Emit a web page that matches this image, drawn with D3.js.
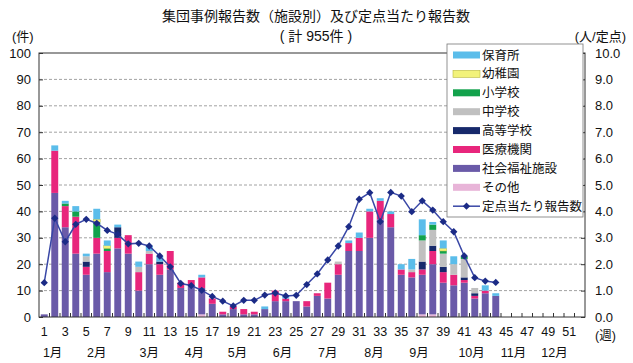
<!DOCTYPE html>
<html>
<head>
<meta charset="utf-8">
<script src="https://cdn.jsdelivr.net/npm/d3@7"></script>
<style>
  body { margin: 0; background: #fff; }
  svg text { font-family: "Liberation Sans", "Noto Sans CJK JP", sans-serif; fill: #111; }
</style>
</head>
<body>
<div id="chart"></div>
<script>
// weeks 1..52, data reported up to week 44
const weeks = d3.range(1, 53);
const weekLabels = weeks.filter(w => w % 2 === 1);
const months = ['1月', '2月', '3月', '4月', '5月', '6月', '7月', '8月', '9月', '10月', '11月', '12月'];
const monthWeeks = [1.8, 6, 11, 15.3, 19.4, 23.7, 28, 32.4, 36.7, 41.7, 45.7, 49.6];

// 集団事例報告数 by facility (weeks 1..44)
const other =        [0,0,0,0,0,0,0,0,0,0,0,0,0,0,0,1,0,0,0,0,0,0,0,0,0,0,0,0,0,0,0,0,0,0,0,0,1,1,0,0,0,0,0,0];
const welfare =      [1,47,34,24,16,24,17,26,24,10,20,16,18,11,12,10,5,1,3,1,1,3,6,6,6,4,8,7,16,25,25,30,37,34,16,15,15,19,13,12,13,7,9,8];
const medical =      [0,16,8,14,3,6,8,4,7,7,4,4,7,2,2,4,2,1,1,2,1,0,4,1,0,2,1,6,4,3,5,10,7,5,2,2,2,5,4,4,1,1,1,0];
const highSchool =   [0,0,0,0,2,0,0,4,0,0,0,1,0,0,0,0,0,0,0,0,0,0,0,0,0,0,0,0,0,0,0,0,0,0,0,0,3,2,2,0,1,1,0,0];
const juniorHigh =   [0,0,0,0,2,0,0,0,0,2,1,0,0,0,0,0,0,0,0,0,0,0,0,0,0,0,0,0,1,0,0,0,0,0,0,1,8,6,5,4,7,2,0,0];
const elementary =   [0,0,1,2,0,6,1,0,0,0,0,0,0,0,0,0,0,0,0,0,0,0,0,0,0,0,0,0,0,0,0,0,0,0,0,0,2,2,1,0,1,0,0,0];
const kindergarten = [0,0,0,0,0,1,1,0,0,0,0,0,0,0,0,0,0,0,0,0,0,0,0,0,0,0,0,0,0,0,0,0,0,0,0,0,0,0,1,0,0,0,0,0];
const nursery =      [0,2,1,2,1,4,2,1,0,2,2,2,0,0,0,1,0,0,0,0,0,1,0,1,0,0,0,0,0,1,2,1,1,1,2,4,6,1,3,3,0,0,2,1];

// 定点当たり報告数 (weeks 1..44)
const perSite = [1.30,3.74,2.85,3.51,3.70,3.55,3.28,3.13,2.77,2.79,2.69,2.31,1.90,1.27,1.19,1.01,0.78,0.60,0.42,0.63,0.63,0.83,0.91,0.80,0.82,1.23,1.63,2.16,2.69,3.42,4.46,4.71,3.61,4.72,4.58,3.99,4.40,4.05,3.61,3.23,2.31,1.49,1.36,1.31];

// stacking order: bottom first
const series = [
  { key: 'その他', values: other, color: '#e8b4d8' },
  { key: '社会福祉施設', values: welfare, color: '#6a5aa8' },
  { key: '医療機関', values: medical, color: '#e8267c' },
  { key: '高等学校', values: highSchool, color: '#17296b' },
  { key: '中学校', values: juniorHigh, color: '#c0c0c0' },
  { key: '小学校', values: elementary, color: '#12a24c' },
  { key: '幼稚園', values: kindergarten, color: '#f2f27a', stroke: '#b8b840' },
  { key: '保育所', values: nursery, color: '#5bbdea' }
];

const width = 633, height = 363;
const margin = { top: 53, right: 48, bottom: 46, left: 39 };
const innerW = width - margin.left - margin.right;
const innerH = height - margin.top - margin.bottom;

const svg = d3.select('#chart').append('svg')
  .attr('width', width)
  .attr('height', height);

const g = svg.append('g').attr('transform', `translate(${margin.left},${margin.top})`);

const x = d3.scaleBand().domain(weeks).range([0, innerW]).paddingInner(0.34).paddingOuter(0.17);
const step = x.step();
const y = d3.scaleLinear().domain([0, 100]).range([innerH, 0]);
const y2 = d3.scaleLinear().domain([0, 10]).range([innerH, 0]);

// table for stack
const table = weeks.map((w, i) => {
  const row = { week: w };
  series.forEach(s => { row[s.key] = s.values[i] || 0; });
  return row;
});
const stacked = d3.stack().keys(series.map(s => s.key))(table);

// gridlines
g.append('g')
  .selectAll('line')
  .data(d3.range(10, 100, 10))
  .enter().append('line')
  .attr('x1', 0).attr('x2', innerW)
  .attr('y1', d => y(d)).attr('y2', d => y(d))
  .style('stroke', '#8a8a8a')
  .style('stroke-width', '0.8px')
  .style('stroke-dasharray', '3,2');

// bars
stacked.forEach((layer, li) => {
  const s = series[li];
  g.append('g')
    .selectAll('rect')
    .data(layer.filter(d => d[1] - d[0] > 0))
    .enter().append('rect')
    .attr('x', d => x(d.data.week))
    .attr('y', d => y(d[1]))
    .attr('width', x.bandwidth())
    .attr('height', d => y(d[0]) - y(d[1]))
    .style('fill', s.color)
    .style('stroke', s.stroke || 'none')
    .style('stroke-width', s.stroke ? '0.5px' : 0);
});

// frame
g.append('rect')
  .attr('x', 0).attr('y', 0)
  .attr('width', innerW).attr('height', innerH)
  .style('fill', 'none')
  .style('stroke', '#333')
  .style('stroke-width', '1px');

// axes
const yAxisL = d3.axisLeft(y).tickValues(d3.range(0, 101, 10)).tickSize(-4).tickPadding(8);
const yAxisR = d3.axisRight(y2).tickValues(d3.range(0, 10.01, 1)).tickSize(-4).tickPadding(10).tickFormat(d3.format('.1f'));
const xAxis = d3.axisBottom(x).tickValues(weekLabels).tickSize(0).tickPadding(10);

const gl = g.append('g').call(yAxisL);
const gr = g.append('g').attr('transform', `translate(${innerW},0)`).call(yAxisR);
const gx = g.append('g').attr('transform', `translate(0,${innerH})`).call(xAxis);
[gl, gr, gx].forEach(a => {
  a.select('.domain').remove();
  a.selectAll('line').style('stroke', '#333');
  a.selectAll('text').style('font-size', '13px').style('fill', '#111');
});
gx.selectAll('text').style('font-size', '12.5px');

// week boundary ticks on bottom axis
g.append('g')
  .selectAll('line')
  .data(weeks.slice(1))
  .enter().append('line')
  .attr('x1', d => x(d) - (step - x.bandwidth()) / 2)
  .attr('x2', d => x(d) - (step - x.bandwidth()) / 2)
  .attr('y1', innerH).attr('y2', innerH - 4)
  .style('stroke', '#333');

// month labels
g.append('g')
  .selectAll('text')
  .data(months)
  .enter().append('text')
  .attr('x', (d, i) => x(1) + x.bandwidth() / 2 + (monthWeeks[i] - 1) * step)
  .attr('y', innerH + 40)
  .attr('text-anchor', 'middle')
  .style('font-size', '12.5px')
  .text(d => d);

// per-site line
const linePts = perSite.map((v, i) => ({ week: weeks[i], v }));
const line = d3.line()
  .x(d => x(d.week) + x.bandwidth() / 2)
  .y(d => y2(d.v));

g.append('path')
  .datum(linePts)
  .attr('d', line)
  .style('fill', 'none')
  .style('stroke', '#3947a6')
  .style('stroke-width', '1.5px');

const diamond = d3.symbol().type(d3.symbolDiamond2).size(34);
g.append('g')
  .selectAll('path')
  .data(linePts)
  .enter().append('path')
  .attr('d', diamond)
  .attr('transform', d => `translate(${x(d.week) + x.bandwidth() / 2},${y2(d.v)})`)
  .style('fill', '#1b2b86');

// titles and units
svg.append('text').attr('x', 316).attr('y', 21).attr('text-anchor', 'middle')
  .style('font-size', '14px').text('集団事例報告数（施設別）及び定点当たり報告数');
svg.append('text').attr('x', 316).attr('y', 41).attr('text-anchor', 'middle')
  .style('font-size', '14px').text('( 計 955件 )');
svg.append('text').attr('x', 12).attr('y', 41)
  .style('font-size', '13px').text('(件)');
svg.append('text').attr('x', 626).attr('y', 41).attr('text-anchor', 'end')
  .style('font-size', '13px').text('(人/定点)');
svg.append('text').attr('x', margin.left + innerW + 10).attr('y', margin.top + innerH + 23)
  .style('font-size', '12.5px').text('(週)');

// legend
const legendItems = series.slice().reverse().map(s => ({ key: s.key, color: s.color, stroke: s.stroke }));
legendItems.push({ key: '定点当たり報告数', isLine: true });

const lg = svg.append('g').attr('transform', 'translate(447,44)');
lg.append('rect')
  .attr('width', 136).attr('height', 173)
  .style('fill', '#fff')
  .style('stroke', '#777')
  .style('stroke-width', '0.8px');

const rows = lg.selectAll('g.row')
  .data(legendItems)
  .enter().append('g')
  .attr('class', 'row')
  .attr('transform', (d, i) => `translate(6,${11 + i * 18.9})`);

rows.filter(d => !d.isLine).append('rect')
  .attr('x', 0).attr('y', -3.5)
  .attr('width', 27).attr('height', 7)
  .style('fill', d => d.color)
  .style('stroke', d => d.stroke || 'none')
  .style('stroke-width', '0.6px');

const lineRow = rows.filter(d => d.isLine);
lineRow.append('line')
  .attr('x1', 0).attr('x2', 27).attr('y1', 0).attr('y2', 0)
  .style('stroke', '#3947a6').style('stroke-width', '1.5px');
lineRow.append('path')
  .attr('d', diamond)
  .attr('transform', 'translate(13.5,0)')
  .style('fill', '#1b2b86');

rows.append('text')
  .attr('x', 29).attr('y', 0)
  .attr('dy', '0.36em')
  .style('font-size', '12.5px')
  .text(d => d.key);
</script>
</body>
</html>
